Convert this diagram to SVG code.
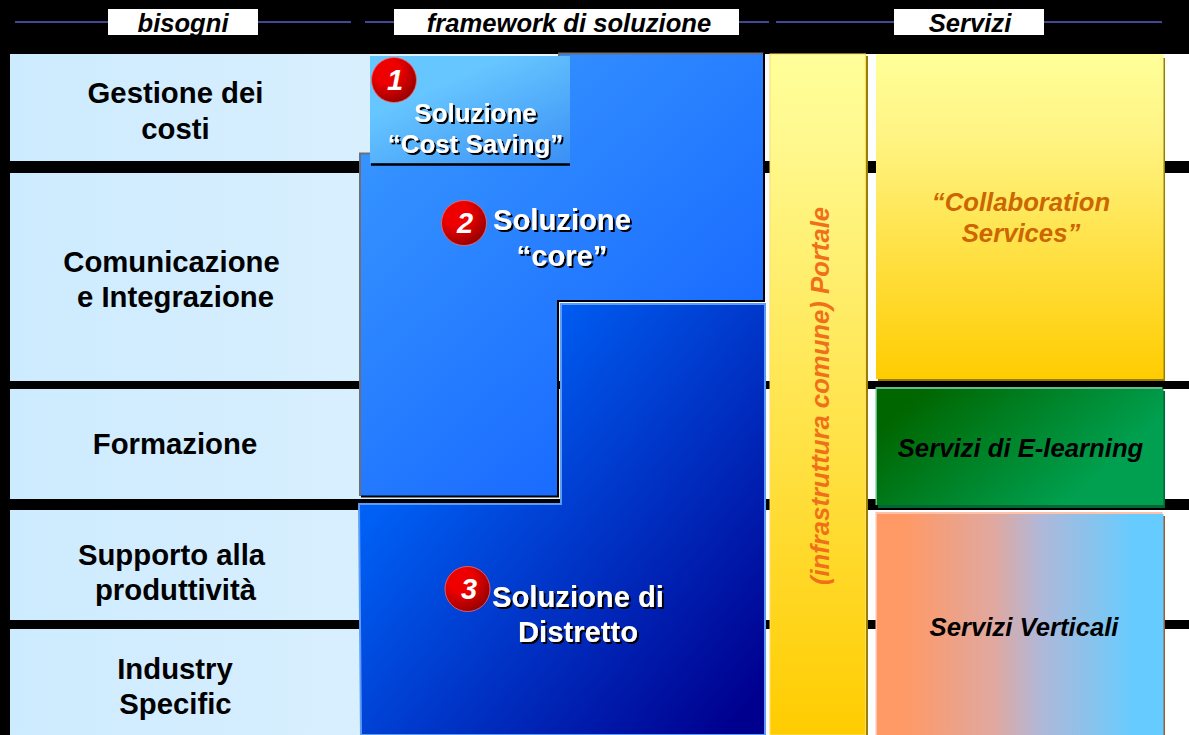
<svg xmlns="http://www.w3.org/2000/svg" width="1189" height="735" viewBox="0 0 1189 735">
<style>
text{font-family:"Liberation Sans",Arial,sans-serif;font-weight:bold;text-anchor:middle}
.hd{font-size:25.600px;font-style:italic;fill:#000}
.need{font-size:29.300px;fill:#000}
.sol{fill:#fff;filter:url(#ts)}
.sv{font-size:25.700px;font-style:italic}
.num{font-size:29px;font-style:italic;fill:#fff}
.ln{stroke:#5a5fc8;stroke-width:1.5;fill:none}
.lab{fill:#fff}
.row{fill:url(#rowG)}
</style>
<defs>
<linearGradient id="rowG" gradientUnits="userSpaceOnUse" x1="10" y1="0" x2="1189" y2="0"><stop offset="0" stop-color="#cdebff"/><stop offset="0.3" stop-color="#d8effe"/><stop offset="0.65" stop-color="#fbfdff"/><stop offset="1" stop-color="#fff"/></linearGradient>
<linearGradient id="coreG" gradientUnits="userSpaceOnUse" x1="360" y1="60" x2="765" y2="500"><stop offset="0" stop-color="#3b9bff"/><stop offset="1" stop-color="#0f5cff"/></linearGradient>
<linearGradient id="costG2" gradientUnits="userSpaceOnUse" x1="520" y1="50" x2="570" y2="165"><stop offset="0" stop-color="#66c6ff"/><stop offset="1" stop-color="#3a8ff5"/></linearGradient>
<linearGradient id="distG" gradientUnits="userSpaceOnUse" x1="400" y1="480" x2="720" y2="740"><stop offset="0" stop-color="#0060f5"/><stop offset="1" stop-color="#00008f"/></linearGradient>
<linearGradient id="yelG" x1="0" y1="0" x2="0" y2="1"><stop offset="0" stop-color="#ffff99"/><stop offset="0.12" stop-color="#fff98f"/><stop offset="1" stop-color="#ffcc00"/></linearGradient>
<linearGradient id="colG" x1="0" y1="0" x2="0" y2="1"><stop offset="0" stop-color="#ffff99"/><stop offset="0.25" stop-color="#fff484"/><stop offset="1" stop-color="#ffcc00"/></linearGradient>
<linearGradient id="grnG" gradientUnits="userSpaceOnUse" x1="940" y1="375" x2="1060" y2="510"><stop offset="0" stop-color="#006600"/><stop offset="1" stop-color="#00a050"/></linearGradient>
<linearGradient id="verG" x1="0" y1="0" x2="1" y2="0"><stop offset="0.1" stop-color="#ff9966"/><stop offset="0.41" stop-color="#e0a8a0"/><stop offset="0.57" stop-color="#b0b8d8"/><stop offset="0.9" stop-color="#66ccff"/></linearGradient>
<radialGradient id="redG" cx="0.35" cy="0.3" r="0.8"><stop offset="0.35" stop-color="#ee0000"/><stop offset="1" stop-color="#8a0000"/></radialGradient>
<filter id="ts" x="-10%" y="-20%" width="120%" height="140%"><feDropShadow dx="2" dy="2" stdDeviation="0.3" flood-color="#000"/></filter>
</defs>
<rect width="1189" height="735" fill="#000"/>
<g id="rows">
<rect class="row" x="10" y="54" width="1179" height="107"/>
<rect class="row" x="10" y="173" width="1179" height="208"/>
<rect class="row" x="10" y="389" width="1179" height="110"/>
<rect class="row" x="10" y="510" width="1179" height="110"/>
<rect class="row" x="10" y="629" width="1179" height="106"/>
</g>
<g id="connectors">
<path class="ln" d="M15 22H351M365 22H769M776 22H1162"/>
</g>
<g id="header-bisogni"><rect class="lab" x="108" y="9" width="150" height="26"/><text class="hd" x="183" y="32">bisogni</text></g>
<g id="header-framework"><rect class="lab" x="394" y="9" width="345" height="26"/><text class="hd" x="569" y="32">framework di soluzione</text></g>
<g id="header-servizi"><rect class="lab" x="894" y="9" width="150" height="26"/><text class="hd" x="970" y="32">Servizi</text></g>
<g id="need-costi"><text class="need" x="175.500" y="103">Gestione dei</text><text class="need" x="175.500" y="139">costi</text></g>
<g id="need-comunicazione"><text class="need" x="171.500" y="272">Comunicazione</text><text class="need" x="175.500" y="307">e Integrazione</text></g>
<g id="need-formazione"><text class="need" x="175" y="454">Formazione</text></g>
<g id="need-supporto"><text class="need" x="171.500" y="565">Supporto alla</text><text class="need" x="175.500" y="600">produttività</text></g>
<g id="need-industry"><text class="need" x="175" y="679">Industry</text><text class="need" x="175.500" y="714">Specific</text></g>
<g id="soluzione-distretto">
<path d="M359 504H561V304H765V735H361Z" fill="url(#distG)" stroke="#5c9cf5" stroke-width="2"/>
<g><circle cx="467.500" cy="589" r="22.500" fill="url(#redG)" stroke="#ff6a6a" stroke-width="0.800"/><text class="num" x="469" y="599">3</text></g>
<g class="sol"><text x="578" y="607" font-size="29.200">Soluzione di</text><text x="578" y="642" font-size="29.200">Distretto</text></g>
</g>
<g id="soluzione-core">
<path d="M360 153.500H559V53.500H763.500V300.500H558V496H360Z" fill="url(#coreG)"/>
<path d="M360 496V153.500H559V53.500H763.500" fill="none" stroke="#6e6e78" stroke-width="2"/>
<path d="M764 53V301H558V496.500H361" fill="none" stroke="#000" stroke-width="2"/>
<g><circle cx="464" cy="223" r="22.500" fill="url(#redG)" stroke="#ff6a6a" stroke-width="0.800"/><text class="num" x="465" y="233">2</text></g>
<g class="sol"><text x="562" y="230" font-size="29.200">Soluzione</text><text x="562" y="266" font-size="29.200">“core”</text></g>
</g>
<g id="soluzione-cost-saving">
<rect x="370" y="56" width="200" height="107" fill="url(#costG2)"/>
<path d="M371 164.500H570" stroke="#000" stroke-width="2.500"/>
<g><circle cx="394" cy="80" r="22.500" fill="url(#redG)" stroke="#ff6a6a" stroke-width="0.800"/><text class="num" x="395" y="90">1</text></g>
<g class="sol"><text x="475.500" y="122" font-size="25.900">Soluzione</text><text x="475.500" y="153" font-size="25.900">“Cost Saving”</text></g>
</g>
<g id="portale">
<rect x="771" y="56" width="97" height="679" fill="#998000"/>
<rect x="770" y="54" width="95.500" height="681" fill="url(#yelG)" stroke="#ffdc66" stroke-width="1"/>
<text transform="translate(829 396) rotate(-90)" font-size="25.700" font-style="italic" fill="#f0701a">(infrastruttura comune) Portale</text>
</g>
<g id="collaboration">
<rect x="878" y="58" width="287" height="323" fill="#997f00"/>
<rect x="876" y="54" width="287.500" height="325" fill="url(#colG)"/>
<text class="sv" x="1021" y="211" fill="#cc6600">“Collaboration</text><text class="sv" x="1021" y="242" fill="#cc6600">Services”</text>
</g>
<g id="e-learning">
<rect x="878" y="391" width="287" height="117" fill="#006633"/>
<rect x="875.500" y="387" width="287" height="118" fill="#66bb88"/>
<rect x="877" y="389" width="286.500" height="116" fill="url(#grnG)"/>
<text class="sv" x="1020.500" y="457" fill="#000">Servizi di E-learning</text>
</g>
<g id="servizi-verticali">
<rect x="878" y="516" width="287" height="219" fill="#a05a38"/>
<rect x="875.500" y="512" width="287" height="223" fill="#ffc2a8"/>
<rect x="877" y="514" width="286.500" height="221" fill="url(#verG)"/>
<text class="sv" x="1024" y="636" fill="#000">Servizi Verticali</text>
</g>
</svg>
